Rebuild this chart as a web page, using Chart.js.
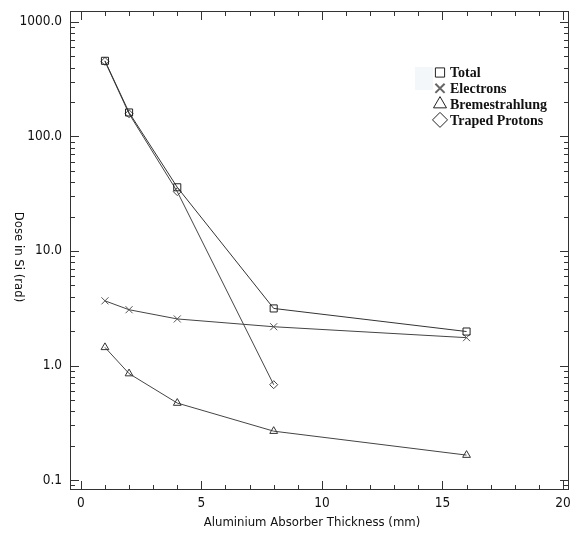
<!DOCTYPE html>
<html>
<head>
<meta charset="utf-8">
<script src="https://cdn.jsdelivr.net/npm/chart.js@4.4.1/dist/chart.umd.min.js"></script>
<style>
  html, body { margin: 0; padding: 0; background: #fff; }
  #wrap { width: 571px; height: 536px; }
</style>
</head>
<body>
<div id="wrap"><canvas id="doseChart"></canvas></div>
<script>
// values
const thickness = [1, 2, 4, 8, 16];
const protonThickness = [1, 2, 4, 8];
const totalDose = [458, 162, 36, 3.15, 1.98];
const electronDose = [3.67, 3.07, 2.55, 2.18, 1.75];
const bremsDose = [1.44, 0.85, 0.47, 0.267, 0.165];
const protonDose = [453, 158, 33, 0.68];
const seriesNames = ['Total', 'Electrons', 'Bremestrahlung', 'Traped Protons'];
const xTicks = [0, 5, 10, 15, 20];
const yTicks = [0.1, 1, 10, 100, 1000];

const labelFont = '"DejaVu Sans Condensed", "DejaVu Sans"';

const toPoints = (xs, ys) => ys.map((y, i) => ({ x: xs[i], y: y }));

const styles = [
    { pointStyle: 'rect', pointRadius: 5, pointBorderColor: '#222', borderColor: '#333' },
    { pointStyle: 'crossRot', pointRadius: 5, pointBorderColor: '#555', borderColor: '#444' },
    { pointStyle: 'triangle', pointRadius: 4.5, pointBorderColor: '#333', borderColor: '#444' },
    { pointStyle: 'rectRot', pointRadius: 4, pointBorderColor: '#444', borderColor: '#444' }
];
const seriesData = [
    toPoints(thickness, totalDose),
    toPoints(thickness, electronDose),
    toPoints(thickness, bremsDose),
    toPoints(protonThickness, protonDose)
];

const datasets = seriesNames.map((name, i) => Object.assign({
    label: name,
    data: seriesData[i],
    borderWidth: 1,
    pointBorderWidth: 1,
    pointBackgroundColor: 'rgba(0,0,0,0)',
    fill: false,
    tension: 0
}, styles[i]));

const noPadding = (s) => { s.paddingTop = 0; s.paddingBottom = 0; s.paddingLeft = 0; s.paddingRight = 0; };

// frame, inward ticks, axis titles and legend
const decorations = {
    id: 'decorations',
    afterDraw(chart) {
        const ctx = chart.ctx;
        const a = chart.chartArea;
        const xs = chart.scales.x, ys = chart.scales.y;
        ctx.save();
        ctx.strokeStyle = '#333';
        ctx.lineWidth = 1;
        ctx.strokeRect(a.left + 0.5, a.top + 0.5, a.right - a.left - 1, a.bottom - a.top - 1);

        ctx.beginPath();
        for (let v = 0; v <= 20; v++) {
            const px = Math.round(xs.getPixelForValue(v)) + 0.5;
            const len = v % 5 === 0 ? 9 : 5;
            ctx.moveTo(px, a.bottom); ctx.lineTo(px, a.bottom - len);
            ctx.moveTo(px, a.top); ctx.lineTo(px, a.top + len);
        }
        for (let d = 0.01; d < 2000; d *= 10) {
            for (let m = 1; m <= 9; m++) {
                const v = d * m;
                if (v < ys.min || v > ys.max) continue;
                const py = Math.round(ys.getPixelForValue(v)) + 0.5;
                const len = m === 1 ? 9 : 5;
                ctx.moveTo(a.left, py); ctx.lineTo(a.left + len, py);
                ctx.moveTo(a.right, py); ctx.lineTo(a.right - len, py);
            }
        }
        ctx.stroke();

        ctx.fillStyle = '#111';
        ctx.font = '13px ' + labelFont;
        ctx.textAlign = 'center';
        ctx.textBaseline = 'middle';
        ctx.fillText('Aluminium Absorber Thickness (mm)', 312, 523);
        ctx.save();
        ctx.translate(18, 257);
        ctx.rotate(Math.PI / 2);
        ctx.fillText('Dose in Si (rad)', 0, 0);
        ctx.restore();

        // legend inside the plot
        ctx.fillStyle = '#f3f7fa';
        ctx.fillRect(415, 67, 18, 23);
        ctx.font = 'bold 14px "Liberation Serif"';
        ctx.textAlign = 'left';
        const legendRadius = [6.5, 6.5, 7.5, 7.5];
        chart.data.datasets.forEach((ds, i) => {
            const y = 72.5 + i * 15.8;
            ctx.strokeStyle = i === 1 ? '#666' : '#222';
            ctx.fillStyle = 'rgba(0,0,0,0)';
            ctx.lineWidth = i === 1 ? 2 : 1;
            Chart.helpers.drawPoint(ctx, {
                pointStyle: ds.pointStyle,
                radius: legendRadius[i],
                borderWidth: ctx.lineWidth,
                rotation: 0
            }, 440, y);
            ctx.fillStyle = '#111';
            ctx.fillText(ds.label, 450, y + 1);
        });
        ctx.restore();
    }
};

new Chart(document.getElementById('doseChart').getContext('2d'), {
    type: 'line',
    data: { datasets: datasets },
    options: {
        responsive: true,
        maintainAspectRatio: false,
        animation: false,
        layout: { autoPadding: false, padding: { top: 11, right: 2, left: 0, bottom: 0 } },
        plugins: { legend: { display: false }, tooltip: { enabled: false } },
        scales: {
            x: {
                type: 'linear',
                min: -0.45,
                max: 20.25,
                grid: { display: false, drawTicks: false },
                border: { display: false },
                afterBuildTicks: (s) => { s.ticks = xTicks.map(v => ({ value: v })); },
                afterFit: (s) => { s.height = 46; noPadding(s); },
                ticks: {
                    padding: 5,
                    color: '#111',
                    font: { family: labelFont, size: 13.5 },
                    maxRotation: 0
                }
            },
            y: {
                type: 'logarithmic',
                min: 0.0818,
                max: 1247,
                grid: { display: false, drawTicks: false },
                border: { display: false },
                afterBuildTicks: (s) => { s.ticks = yTicks.map(v => ({ value: v })); },
                afterFit: (s) => { s.width = 70; noPadding(s); },
                ticks: {
                    padding: 8,
                    color: '#111',
                    font: { family: labelFont, size: 13.5 },
                    callback: (v) => Number(v).toFixed(1)
                }
            }
        }
    },
    plugins: [decorations]
});
</script>
</body>
</html>
